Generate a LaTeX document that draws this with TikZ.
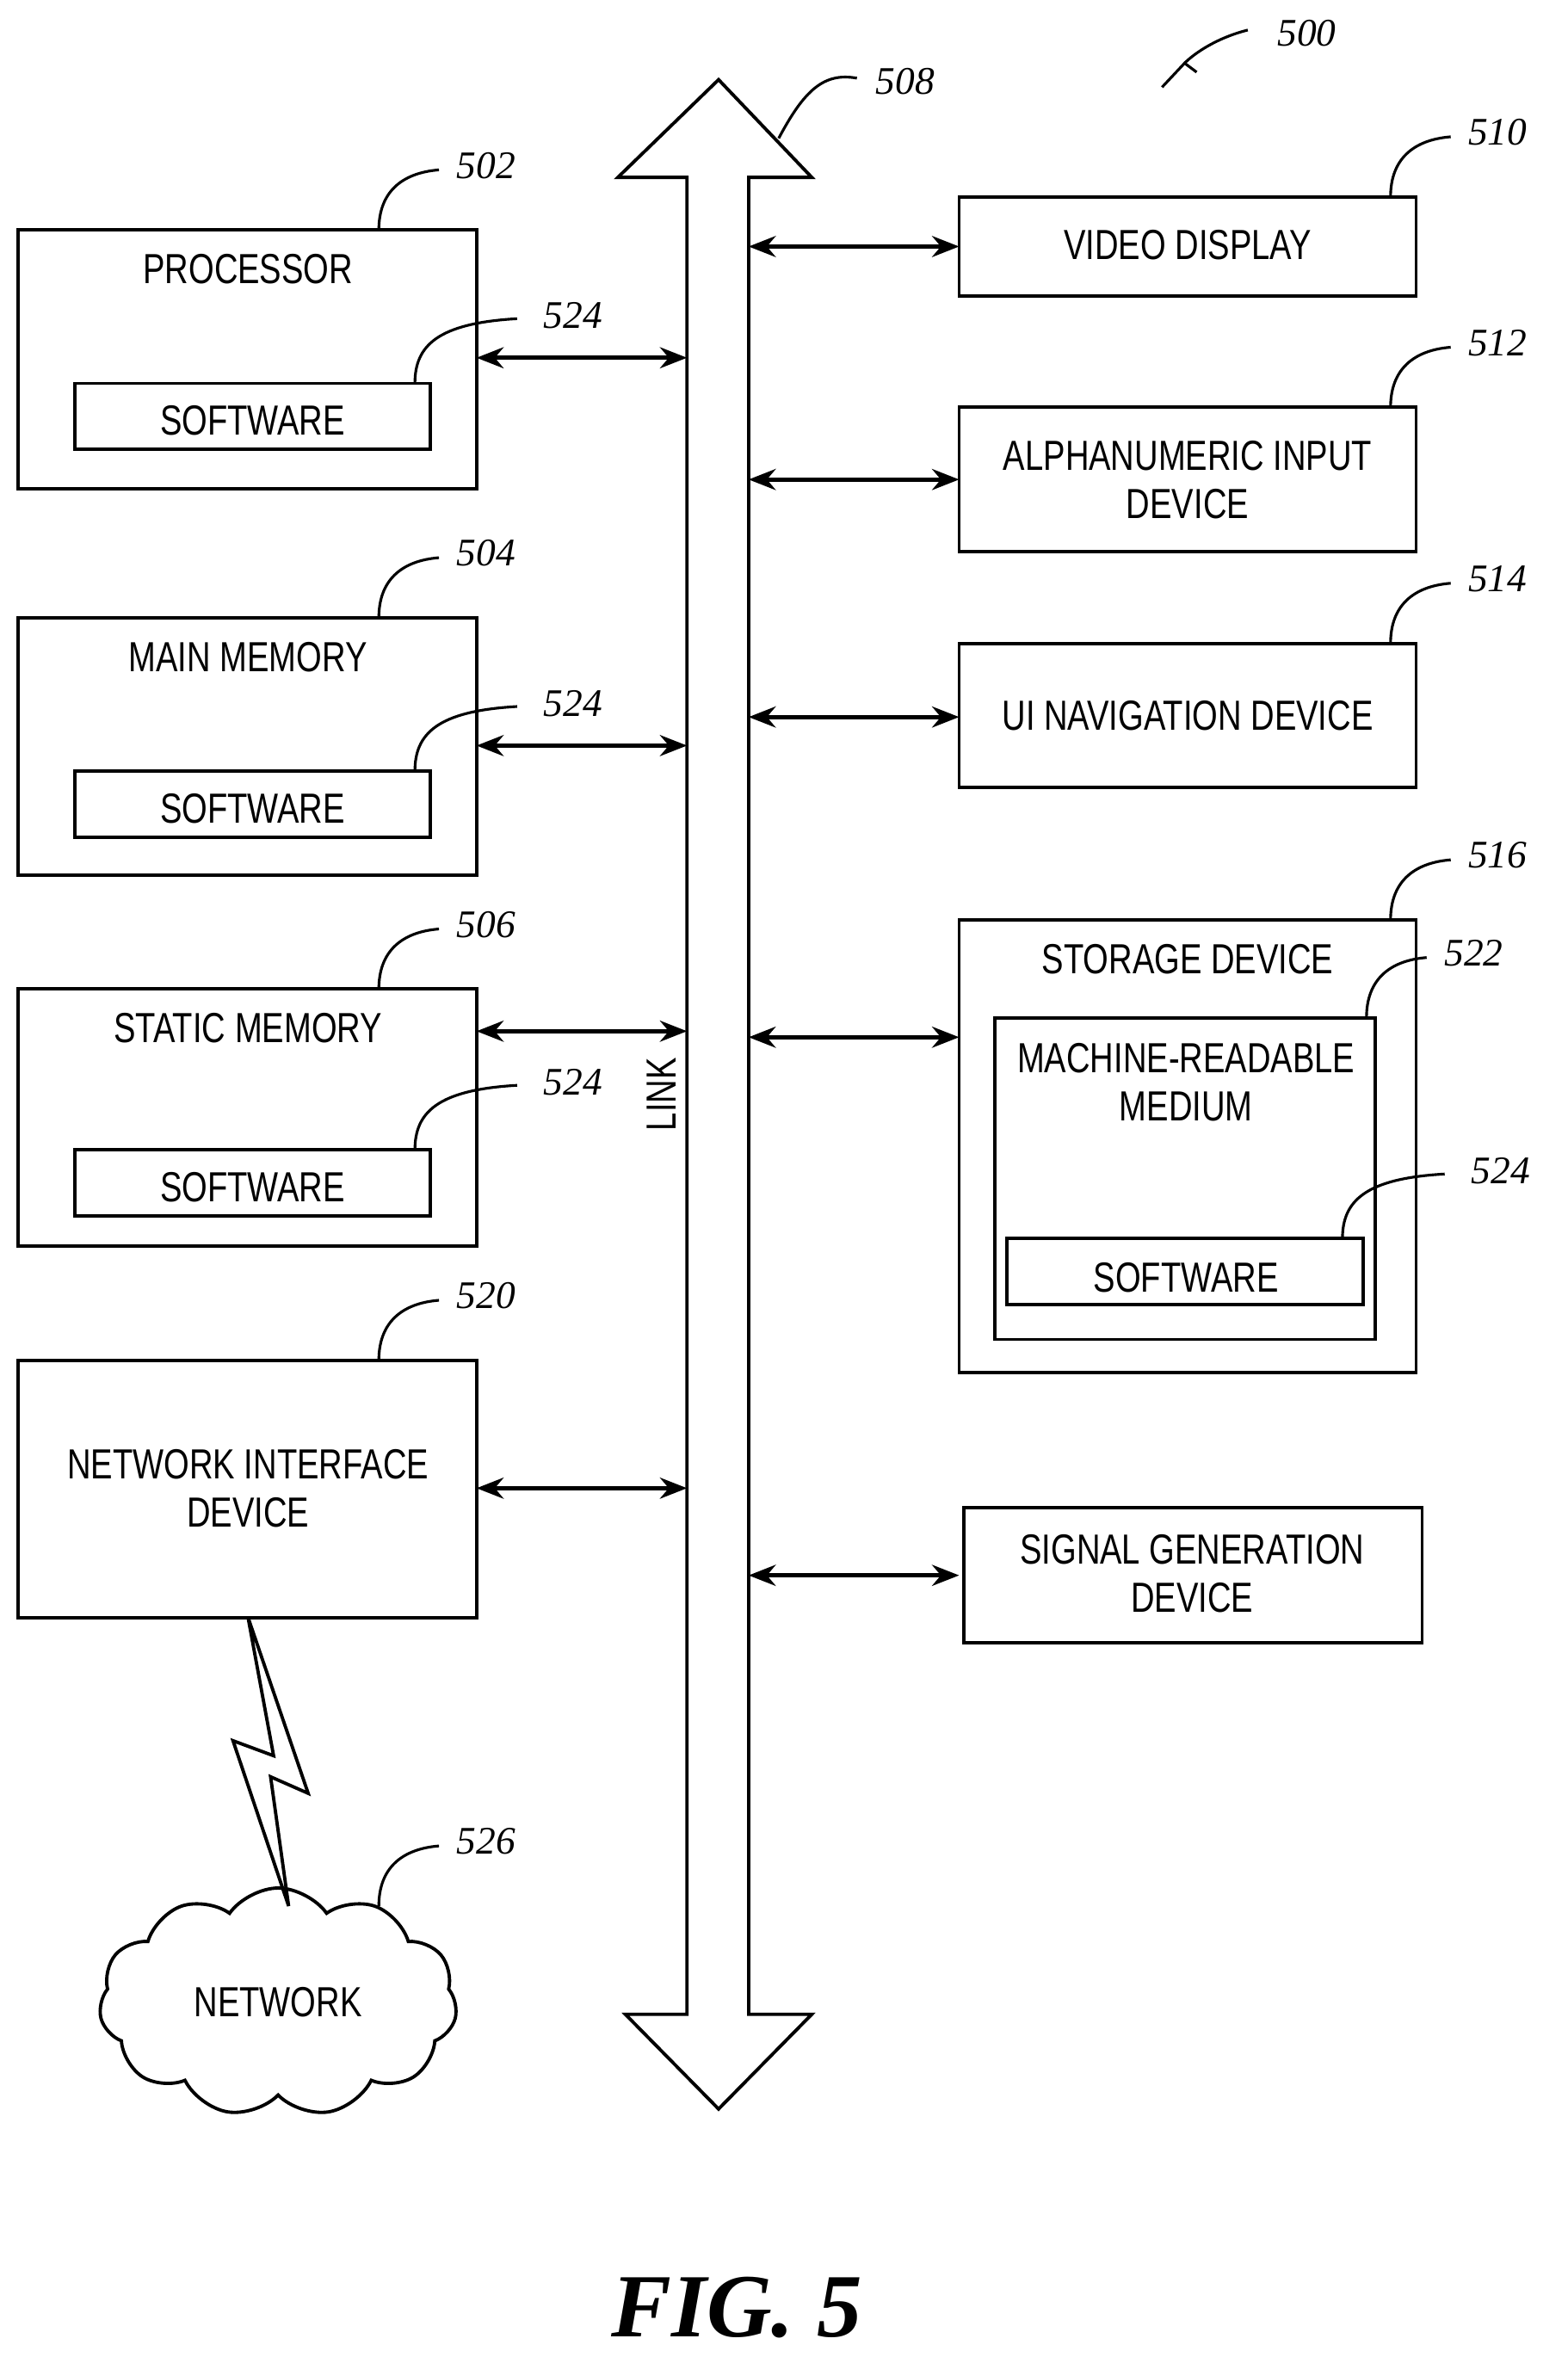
\documentclass[tikz,border=0pt]{standalone}
\usepackage{fontspec}
\setmainfont{Liberation Sans}[FakeStretch=0.78]
\newfontfamily\numfont{Liberation Serif}[Scale=1]
\usetikzlibrary{shapes.symbols,arrows.meta}
\begin{document}
\begin{tikzpicture}[x=0.5pt,y=-0.5pt,line width=1.1pt,
  lbl/.style={font=\fontsize{14}{16}\selectfont,align=center},
  num/.style={font=\numfont\itshape\fontsize{13}{15}\selectfont},
  arr/.style={line width=1.3pt,{Stealth[length=9pt,width=7pt]}-{Stealth[length=9pt,width=7pt]}}]
\useasboundingbox (0,0) rectangle (1043,1568);
% left boxes
\draw (12,153) rectangle (317,325); \node[lbl] (p) at (165,179) {PROCESSOR};
\draw (50,255) rectangle (286,299); \node[lbl] (ps) at (168,280) {SOFTWARE};
\draw (12,411) rectangle (317,582); \node[lbl] (m) at (165,437) {MAIN MEMORY};
\draw (50,513) rectangle (286,557); \node[lbl] (ms) at (168,538) {SOFTWARE};
\draw (12,658) rectangle (317,829); \node[lbl] (s) at (165,684) {STATIC MEMORY};
\draw (50,765) rectangle (286,809); \node[lbl] (ss) at (168,790) {SOFTWARE};
\draw (12,905) rectangle (317,1076); \node[lbl] (n) at (165,990) {NETWORK INTERFACE\\DEVICE};
% bus
\draw (457,118) -- (411,118) -- (478,53) -- (540,118) -- (498,118) -- (498,1340) -- (540,1340) -- (478,1403) -- (416,1340) -- (457,1340) -- cycle;
\node[lbl,rotate=90] (link) at (440,728) {LINK};
% right boxes
\draw (638,131) rectangle (942,197); \node[lbl] (v) at (790,163) {VIDEO DISPLAY};
\draw (638,271) rectangle (942,367); \node[lbl] (a) at (790,319) {ALPHANUMERIC INPUT\\DEVICE};
\draw (638,428) rectangle (942,524); \node[lbl] (u) at (790,476) {UI NAVIGATION DEVICE};
\draw (638,612) rectangle (942,913); \node[lbl] (st) at (790,638) {STORAGE DEVICE};
\draw (662,677) rectangle (915,891); \node[lbl] (mr) at (789,720) {MACHINE-READABLE\\MEDIUM};
\draw (670,824) rectangle (907,868); \node[lbl] (sw) at (789,850) {SOFTWARE};
\draw (641,1003) rectangle (946,1093); \node[lbl] (sg) at (793,1047) {SIGNAL GENERATION\\DEVICE};
% arrows
\foreach \y in {238,496,686,990} \draw[arr] (317,\y) -- (457,\y);
\foreach \y in {164,319,477,690,1048} \draw[arr] (498,\y) -- (638,\y);
% cloud and lightning
\node[cloud,cloud puffs=11,cloud puff arc=110,aspect=1.6,draw,minimum width=119pt,minimum height=76pt,inner sep=0pt,lbl] (net) at (185,1332) {NETWORK};
\draw[line join=miter] (165,1076) -- (205,1193) -- (180,1182) -- (192,1268) -- (155,1158) -- (182,1168) -- cycle;
% reference labels
\foreach \x/\y/\t in {252/153/502,252/411/504,252/658/506,252/905/520,252/1268/526,
  925/131/510,925/271/512,925/428/514,925/612/516,909/677/522}{
  \draw[line width=0.9pt] (\x,\y) .. controls (\x,\y-25) and (\x+15,\y-38) .. (\x+40,\y-40);
  \node[num,anchor=west] at (\x+44,\y-43) {\t};}
\foreach \x/\y in {276/255,276/513,276/765,893/824}{
  \draw[line width=0.9pt] (\x,\y) .. controls (\x,\y-25) and (\x+15,\y-40) .. (\x+68,\y-43);
  \node[num,anchor=west] at (\x+78,\y-45) {524};}
\draw[line width=0.9pt] (518,92) .. controls (535,60) and (548,48) .. (570,52);
\node[num,anchor=west] at (575,54) {508};
\node[num,anchor=west] at (842,22) {500};
\draw[line width=0.9pt] (830,20) .. controls (810,25) and (795,35) .. (788,42);
\draw[line width=0.9pt] (773,58) -- (788,42) -- (796,48);
\node[font=\numfont\bfseries\itshape\fontsize{30}{32}\selectfont] (fig) at (490,1535) {FIG. 5};
\end{tikzpicture}
\end{document}
